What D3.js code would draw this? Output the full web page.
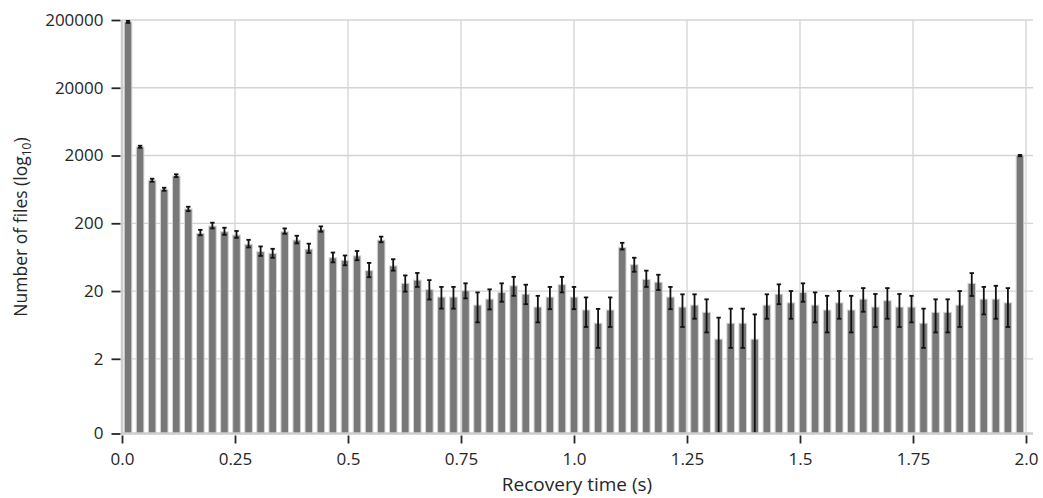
<!DOCTYPE html>
<html>
<head>
  <style>
    body {
      margin: 0;
      background: white;
    }
    text {
      font-family: "Open Sans", "DejaVu Sans", sans-serif;
      fill: #262626;
    }
  </style>
</head>
<body>
  <div id="chart"></div>

  <script src="https://d3js.org/d3.v7.min.js"></script>
  <script>
  // bin count over 0..2 s (75 bins)
  const nBins = 75;
  const binStart = 0, binEnd = 2.0;

  // mean number of files per bin
  const counts = [
    187000, 2670, 861, 634, 997, 325, 142, 182, 150, 134,
    98, 76, 72, 150, 113, 83, 163, 62, 57, 66,
    40, 113, 47, 26, 29, 21, 16.3, 16.3, 20.2, 12.4,
    15.2, 19.1, 23.9, 18, 11.6, 16.3, 24.8, 16.3, 10.5, 6.7,
    10.5, 88, 49, 29.7, 27, 16.3, 11.6, 12.4, 9.7, 3.9,
    6.7, 6.7, 3.9, 12.4, 18, 13.4, 19.1, 12.4, 10.5, 13.4,
    10.5, 15.2, 11.6, 14.4, 11.6, 11.6, 6.7, 9.7, 9.7, 12.4,
    26, 15.2, 15.2, 13.4, 1987
  ];
  // lower / upper ends of the error bars
  const errLow = [
    181000, 2600, 821, 604, 963, 303, 133, 168, 135, 122,
    88, 66, 62, 140, 101, 73, 150, 53, 48, 57,
    32, 105, 40, 19.6, 23, 15, 11, 11, 15.6, 6.9,
    10.7, 13.9, 17, 12.8, 6.9, 10.8, 19.1, 10.8, 5.9, 2.9,
    5.9, 82, 38.5, 23, 20.7, 10.8, 5.9, 7.8, 4.9, 0,
    2.9, 2.9, 0, 7.8, 12.8, 7.8, 13.9, 6.9, 4.9, 7.8,
    4.9, 9.9, 5.9, 7.8, 5.9, 6.9, 2.9, 4.9, 4.9, 5.9,
    16.9, 9.05, 7.8, 5.9, 1950
  ];
  const errHigh = [
    194000, 2790, 909, 669, 1056, 351, 160, 204, 172, 154,
    114, 91, 84, 168, 131, 100, 180, 74, 67, 78,
    52, 127, 59, 34, 37, 29, 23, 23, 26, 19.1,
    21.2, 26, 32.4, 24.8, 17, 23, 32.4, 23, 16.1, 10.9,
    16.1, 103, 62, 40, 34.8, 23, 17.9, 17.9, 15.1, 8.1,
    11, 11, 9.05, 17.9, 25.1, 20, 26, 19.1, 17, 20,
    17, 22.1, 18.1, 22.1, 18.1, 17, 11, 15.1, 15.1, 20,
    36.8, 23, 23.9, 22.1, 2040
  ];

  const xTicks = [0, 0.25, 0.5, 0.75, 1.0, 1.25, 1.5, 1.75, 2.0];
  const xTickLabels = ["0.0", "0.25", "0.5", "0.75", "1.0", "1.25", "1.5", "1.75", "2.0"];
  const yTicks = [0, 2, 20, 200, 2000, 20000, 200000];

  const W = 1043, H = 498;
  const mLeft = 122, mRight = 1033, mTop = 20, mBottom = 433.5;
  const yFloor = 0.158; // where "0" sits on the log axis

  const svg = d3.select("#chart").append("svg")
      .attr("width", W)
      .attr("height", H);

  const x = d3.scaleLinear()
    .domain([0, 2.0155])
    .range([mLeft, mRight]);

  const y = d3.scaleLog()
    .domain([yFloor, 200000])
    .range([mBottom, mTop]);
  const yv = v => y(Math.max(v, yFloor));

  // grid
  svg.append("g")
    .selectAll("line")
    .data(yTicks.slice(1))
    .join("line")
      .attr("x1", mLeft).attr("x2", mRight)
      .attr("y1", d => yv(d)).attr("y2", d => yv(d))
      .attr("stroke", "#d4d4d4")
      .attr("stroke-width", 1.3);
  svg.append("g")
    .selectAll("line")
    .data(xTicks.slice(1))
    .join("line")
      .attr("x1", d => x(d)).attr("x2", d => x(d))
      .attr("y1", mTop).attr("y2", mBottom)
      .attr("stroke", "#d4d4d4")
      .attr("stroke-width", 1.3);

  // bars
  const binW = (binEnd - binStart) / nBins;
  const stepPx = x(binW) - x(0);
  const barW = stepPx * 0.63;
  const bins = counts.map((c, i) => ({
    c: c, lo: errLow[i], hi: errHigh[i],
    mid: binStart + (i + 0.5) * binW
  }));

  svg.append("g")
    .selectAll("rect")
    .data(bins)
    .join("rect")
      .attr("x", d => x(d.mid) - barW / 2)
      .attr("width", barW)
      .attr("y", d => yv(d.c))
      .attr("height", d => mBottom - yv(d.c))
      .attr("fill", "#787878")
      .attr("stroke", "#d6d6d6")
      .attr("stroke-width", 1);

  // error bars
  const eb = svg.append("g")
    .selectAll("g")
    .data(bins)
    .join("g")
      .attr("stroke", "#111")
      .attr("stroke-width", 1.8);
  eb.append("line")
    .attr("x1", d => x(d.mid)).attr("x2", d => x(d.mid))
    .attr("y1", d => yv(d.lo)).attr("y2", d => yv(d.hi));
  eb.append("line")
    .attr("x1", d => x(d.mid) - 2.2).attr("x2", d => x(d.mid) + 2.2)
    .attr("y1", d => yv(d.hi)).attr("y2", d => yv(d.hi));
  eb.filter(d => d.lo > 0).append("line")
    .attr("x1", d => x(d.mid) - 2.2).attr("x2", d => x(d.mid) + 2.2)
    .attr("y1", d => yv(d.lo)).attr("y2", d => yv(d.lo));

  // spines
  svg.append("line")
    .attr("x1", mLeft).attr("x2", mLeft)
    .attr("y1", mTop).attr("y2", mBottom + 1)
    .attr("stroke", "#cccccc").attr("stroke-width", 2.5);
  svg.append("line")
    .attr("x1", mLeft - 1).attr("x2", mRight)
    .attr("y1", mBottom).attr("y2", mBottom)
    .attr("stroke", "#cccccc").attr("stroke-width", 2.5);

  // axes
  const xAxis = d3.axisBottom(x)
    .tickValues(xTicks)
    .tickFormat((d, i) => xTickLabels[i])
    .tickSize(8)
    .tickPadding(9);
  const gx = svg.append("g")
    .attr("transform", `translate(0,${mBottom + 2})`)
    .call(xAxis);
  gx.select(".domain").remove();
  gx.selectAll(".tick line").attr("stroke", "#262626").attr("stroke-width", 1.8);
  gx.selectAll(".tick text").attr("font-size", 17).attr("fill", "#262626");

  const yAxis = d3.axisLeft(y)
    .tickValues(yTicks.map(v => Math.max(v, yFloor)))
    .tickFormat((d, i) => String(yTicks[i]))
    .tickSize(9)
    .tickPadding(8);
  const gy = svg.append("g")
    .attr("transform", `translate(${mLeft - 1.5},0)`)
    .call(yAxis);
  gy.select(".domain").remove();
  gy.selectAll(".tick line").attr("stroke", "#262626").attr("stroke-width", 1.8);
  gy.selectAll(".tick text").attr("font-size", 17).attr("fill", "#262626");

  // labels
  svg.append("text")
    .attr("x", 577)
    .attr("y", 491)
    .attr("text-anchor", "middle")
    .attr("font-size", 19)
    .text("Recovery time (s)");

  const yl = svg.append("text")
    .attr("transform", `translate(27,227) rotate(-90)`)
    .attr("text-anchor", "middle")
    .attr("font-size", 17.5);
  yl.append("tspan").text("Number of files (log");
  yl.append("tspan").attr("font-size", 12).attr("dy", 4).text("10");
  yl.append("tspan").attr("dy", -4).text(")");
  </script>
</body>
</html>
